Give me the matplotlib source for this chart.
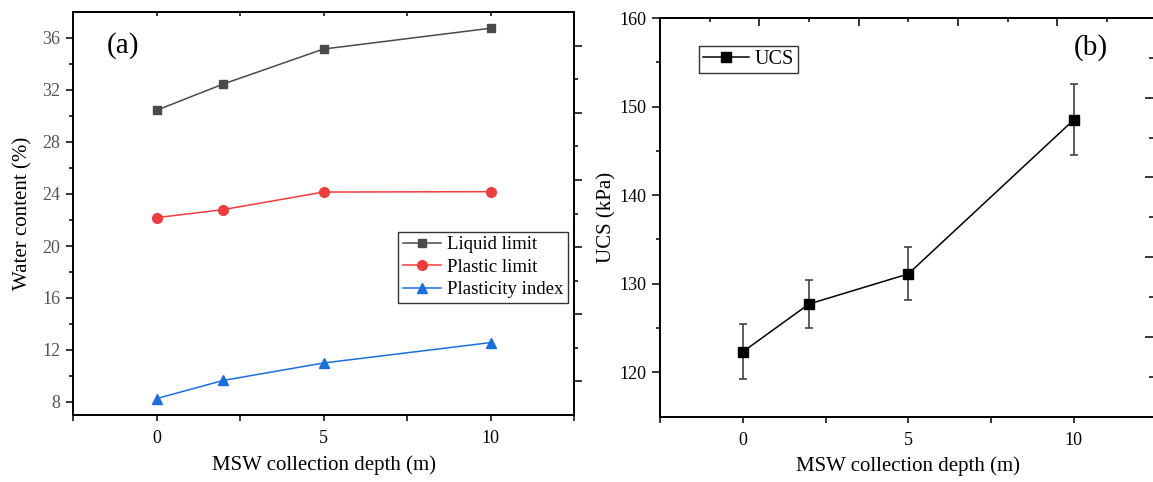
import matplotlib.pyplot as plt
from matplotlib.ticker import MultipleLocator, FixedLocator, NullFormatter

plt.rcParams['font.family'] = ['Liberation Serif', 'DejaVu Serif']
plt.rcParams['axes.linewidth'] = 1.1

# MSW collection depth (m)
depth = [0, 2, 5, 10]

# Atterberg limits (%)
liquid_limit = [30.44, 32.46, 35.15, 36.75]
plastic_limit = [22.18, 22.80, 24.15, 24.18]
plasticity_index = [8.26, 9.66, 11.00, 12.57]

# Unconfined compressive strength (kPa) and error
ucs = [122.3, 127.7, 131.1, 148.5]
ucs_err = [3.1, 2.7, 3.0, 4.0]

c_grey = '#4a4a4a'
c_red = '#f03c3c'
c_blue = '#1a6fdf'

fig = plt.figure(figsize=(11.53, 4.82), dpi=100)
W, H = 1153, 482
ax1 = fig.add_axes([73 / W, 1 - 415 / H, 501 / W, 403 / H])
ax2 = fig.add_axes([660 / W, 1 - 416.5 / H, 496.5 / W, 398.5 / H])

# ---------- (a) Atterberg limits ----------
ax1.plot(depth, liquid_limit, '-s', color=c_grey, lw=1.1, ms=6, label='Liquid limit')
ax1.plot(depth, plastic_limit, '-o', color=c_red, lw=1.1, ms=7, label='Plastic limit')
ax1.plot(depth, plasticity_index, '-^', color=c_blue, lw=1.1, ms=7.5, label='Plasticity index')

ax1.set_xlim(-2.5, 12.5)
ax1.set_ylim(7, 38)
ax1.xaxis.set_major_locator(FixedLocator([0, 5, 10]))
ax1.xaxis.set_minor_locator(FixedLocator([-2.5, 2.5, 7.5, 12.5]))
ax1.yaxis.set_major_locator(MultipleLocator(4))
ax1.yaxis.set_minor_locator(FixedLocator([10, 14, 18, 22, 26, 30, 34]))
ax1.tick_params(axis='x', which='both', direction='out', length=4, width=1.1,
                labelsize=13, pad=7)
ax1.tick_params(axis='y', which='major', direction='out', length=5, width=1.1,
                labelsize=13, labelcolor='#555555', pad=4)
ax1.tick_params(axis='y', which='minor', direction='out', length=3, width=1.1)
ax1.set_xlabel('MSW collection depth (m)', fontsize=15)
ax1.set_ylabel('Water content (%)', fontsize=15)
ax1.xaxis.set_label_coords(0.5, -0.1)
ax1.yaxis.set_label_coords(-0.08, 0.5)

top1 = ax1.twiny()
top1.set_xlim(ax1.get_xlim())
top1.xaxis.set_major_locator(FixedLocator([-2.5, 0, 2.5, 5, 7.5, 10, 12.5]))
top1.xaxis.set_major_formatter(NullFormatter())
top1.tick_params(axis='x', direction='in', length=3, width=1.1)

right1 = ax1.twinx()
right1.set_ylim(0, 12)
right1.yaxis.set_major_locator(FixedLocator([1, 3, 5, 7, 9, 11]))
right1.yaxis.set_minor_locator(FixedLocator([2, 4, 6, 8, 10]))
right1.yaxis.set_major_formatter(NullFormatter())
right1.tick_params(axis='y', which='major', direction='out', length=6, width=1.1)
right1.tick_params(axis='y', which='minor', direction='out', length=3, width=1.1)

leg1 = ax1.legend(loc='upper left', bbox_to_anchor=(0.649, 0.455), borderaxespad=0,
                  fontsize=13.5, fancybox=False, edgecolor='#333333', framealpha=1,
                  handlelength=2.05, handletextpad=0.3, labelspacing=0.28,
                  borderpad=0.25)
leg1.get_frame().set_linewidth(1.0)
ax1.text(0.1, 0.918, '(a)', transform=ax1.transAxes, fontsize=21,
         ha='center', va='center')

# ---------- (b) UCS ----------
ax2.errorbar(depth, ucs, yerr=ucs_err, fmt='none', ecolor='#333333',
             elinewidth=1.1, capsize=3.2, capthick=1.1)
ax2.plot(depth, ucs, '-s', color='black', lw=1.1, ms=6.5, label='UCS')

ax2.set_xlim(-2.5, 12.5)
ax2.set_ylim(115, 160)
ax2.xaxis.set_major_locator(FixedLocator([0, 5, 10]))
ax2.xaxis.set_minor_locator(FixedLocator([-2.5, 2.5, 7.5, 12.5]))
ax2.yaxis.set_major_locator(MultipleLocator(10))
ax2.yaxis.set_minor_locator(FixedLocator([125, 135, 145, 155]))
ax2.tick_params(axis='x', which='both', direction='out', length=4, width=1.1,
                labelsize=13, pad=7)
ax2.tick_params(axis='y', which='major', direction='out', length=6, width=1.1,
                labelsize=13, pad=4)
ax2.tick_params(axis='y', which='minor', direction='out', length=3, width=1.1)
ax2.set_xlabel('MSW collection depth (m)', fontsize=15)
ax2.set_ylabel('UCS (kPa)', fontsize=15)
ax2.xaxis.set_label_coords(0.5, -0.1)
ax2.yaxis.set_label_coords(-0.087, 0.5)

top2 = ax2.twiny()
top2.set_xlim(ax2.get_xlim())
top2.xaxis.set_major_locator(FixedLocator([0.5, 3.5, 6.5, 9.5]))
top2.xaxis.set_minor_locator(FixedLocator([-1, 2, 5, 8, 11]))
top2.xaxis.set_major_formatter(NullFormatter())
top2.tick_params(axis='x', which='major', direction='in', length=6, width=1.1)
top2.tick_params(axis='x', which='minor', direction='in', length=3, width=1.1)

right2 = ax2.twinx()
right2.set_ylim(0, 10)
right2.yaxis.set_major_locator(FixedLocator([2, 4, 6, 8]))
right2.yaxis.set_minor_locator(FixedLocator([1, 3, 5, 7, 9]))
right2.yaxis.set_major_formatter(NullFormatter())
right2.tick_params(axis='y', which='major', direction='in', length=8, width=1.1)
right2.tick_params(axis='y', which='minor', direction='in', length=5, width=1.1)

leg2 = ax2.legend(loc='upper left', bbox_to_anchor=(0.0785, 0.93), borderaxespad=0,
                  fontsize=14.5, fancybox=False, edgecolor='#333333', framealpha=1,
                  handlelength=2.3, handletextpad=0.25, borderpad=0.2)
leg2.get_frame().set_linewidth(1.0)
ax2.text(0.868, 0.925, '(b)', transform=ax2.transAxes, fontsize=21,
         ha='center', va='center')

fig.savefig('out.png', dpi=100)
